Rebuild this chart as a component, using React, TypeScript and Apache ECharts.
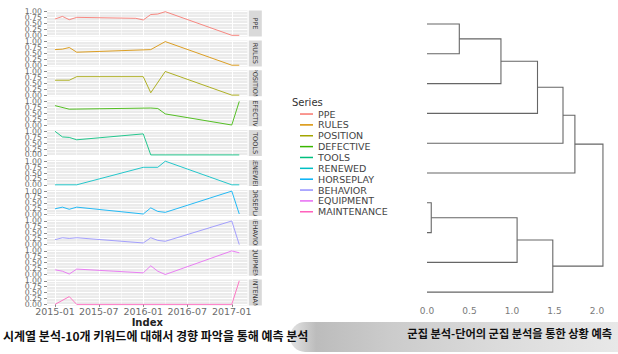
import React, { useEffect, useRef } from 'react';
import * as echarts from 'echarts';

// ---------- data ----------
const SERIES_NAMES = ['PPE', 'RULES', 'POSITION', 'DEFECTIVE', 'TOOLS', 'RENEWED', 'HORSEPLAY', 'BEHAVIOR', 'EQUIPMENT', 'MAINTENANCE'];
const SERIES_COLORS = ['#F8766D', '#D89000', '#A3A500', '#39B600', '#00BF7D', '#00BFC4', '#00B0F6', '#9590FF', '#E76BF3', '#FF62BC'];

const PPE: [string, number][] = [['2015-01', 0.69], ['2015-02', 0.8], ['2015-03', 0.66], ['2015-04', 0.76], ['2015-12', 0.72], ['2016-01', 0.65], ['2016-02', 0.88], ['2016-03', 0.9], ['2016-04', 1.0], ['2017-01', 0.0], ['2017-02', 0.0]];
const RULES: [string, number][] = [['2015-01', 0.66], ['2015-02', 0.68], ['2015-03', 0.75], ['2015-04', 0.55], ['2016-02', 0.66], ['2016-04', 1.0], ['2017-01', 0.0], ['2017-02', 0.0]];
const POSITION: [string, number][] = [['2015-01', 0.63], ['2015-03', 0.63], ['2015-04', 0.78], ['2016-01', 0.78], ['2016-02', 0.1], ['2016-04', 1.0], ['2017-01', 0.0], ['2017-02', 0.0]];
const DEFECTIVE: [string, number][] = [['2015-01', 0.82], ['2015-03', 0.67], ['2016-02', 0.72], ['2016-03', 0.7], ['2016-04', 0.47], ['2017-01', 0.0], ['2017-02', 1.0]];
const TOOLS: [string, number][] = [['2015-01', 1.0], ['2015-02', 0.76], ['2015-03', 0.74], ['2015-04', 0.64], ['2016-01', 0.89], ['2016-02', 0.0], ['2017-02', 0.0]];
const RENEWED: [string, number][] = [['2015-01', 0.0], ['2015-04', 0.0], ['2016-01', 0.74], ['2016-03', 0.74], ['2016-04', 1.0], ['2017-01', 0.0], ['2017-02', 0.0]];
const HORSEPLAY: [string, number][] = [['2015-01', 0.25], ['2015-02', 0.32], ['2015-03', 0.23], ['2015-04', 0.32], ['2016-01', 0.03], ['2016-02', 0.29], ['2016-03', 0.14], ['2016-04', 0.1], ['2017-01', 1.0], ['2017-02', 0.03]];
const BEHAVIOR: [string, number][] = [['2015-01', 0.21], ['2015-02', 0.29], ['2015-03', 0.26], ['2015-04', 0.29], ['2016-01', 0.07], ['2016-02', 0.29], ['2016-03', 0.18], ['2016-04', 0.14], ['2017-01', 1.0], ['2017-02', 0.0]];
const EQUIPMENT: [string, number][] = [['2015-01', 0.2], ['2015-02', 0.14], ['2015-03', 0.02], ['2015-04', 0.23], ['2016-01', 0.07], ['2016-02', 0.37], ['2016-03', 0.14], ['2016-04', 0.0], ['2017-01', 1.0], ['2017-02', 0.92]];
const MAINTENANCE: [string, number][] = [['2015-01', 0.0], ['2015-03', 0.33], ['2015-04', 0.0], ['2017-01', 0.0], ['2017-02', 1.0]];
const SERIES_DATA = [PPE, RULES, POSITION, DEFECTIVE, TOOLS, RENEWED, HORSEPLAY, BEHAVIOR, EQUIPMENT, MAINTENANCE];

const Y_TICKS = [0, 0.25, 0.5, 0.75, 1];
const Y_LABELS_A = [0, 0.5, 1];
const Y_LABELS_B = [0.25, 0.75];
const Y_MINOR = [0.125, 0.375, 0.625, 0.875];
const X_TICKS = ['2015-01', '2015-07', '2016-01', '2016-07', '2017-01'];
const X_MINOR = ['2015-04', '2015-10', '2016-04', '2016-10'];

// dendrogram merges (hclust style: negative = leaf, positive = earlier merge), height
const DENDRO_MERGES: [number, number, number][] = [
  [-1, -2, 0.38],
  [-7, -8, 0.05],
  [1, -3, 0.87],
  [2, -9, 1.06],
  [3, -4, 1.3],
  [4, -10, 1.48],
  [5, -5, 1.6],
  [7, -6, 1.74],
  [8, 6, 2.07],
];
const DENDRO_TICKS = [0, 0.5, 1, 1.5, 2];

const CAPTION_LEFT = '시계열 분석-10개 키워드에 대해서 경향 파악을 통해 예측 분석';
const CAPTION_RIGHT = '군집 분석-단어의 군집 분석을 통한 상황 예측';

// ---------- helpers ----------
const DAY = 86400000;
const ts = (m: string) => Date.UTC(Number(m.slice(0, 4)), Number(m.slice(5, 7)) - 1, 1);
const fmtMonth = (v: number) => {
  const d = new Date(v);
  return `${d.getUTCFullYear()}-${String(d.getUTCMonth() + 1).padStart(2, '0')}`;
};

const FONT = '"DejaVu Sans", sans-serif';
const X_MIN = ts('2015-01') - 33 * DAY;
const X_MAX = ts('2015-01') + 796 * DAY;

const PANEL_LEFT = 47;
const PANEL_W = 200.5;
const PANEL_TOP0 = 10.5;
const PERIOD = 29.9;
const PANEL_H = 26;
const STRIP_LEFT = 248.8;
const STRIP_W = 13;

function buildDendro() {
  const nodeY: number[] = [];
  const nodeH: number[] = [];
  const pos = (ref: number) => (ref < 0 ? { h: 0, y: -ref } : { h: nodeH[ref - 1], y: nodeY[ref - 1] });
  return DENDRO_MERGES.map(([a, b, h]) => {
    const pa = pos(a);
    const pb = pos(b);
    nodeH.push(h);
    nodeY.push((pa.y + pb.y) / 2);
    return { coords: [[pa.h, pa.y], [h, pa.y], [h, pb.y], [pb.h, pb.y]] };
  });
}

const yLabelStyle = {
  formatter: (v: number) => v.toFixed(2), showMinLabel: true, showMaxLabel: true, hideOverlap: false,
  fontSize: 7.8, color: '#6b6b6b', margin: 5, fontFamily: FONT,
};

function buildOption(): any {
  const n = SERIES_NAMES.length;
  const grid: any[] = [];
  const xAxis: any[] = [];
  const yAxis: any[] = [];
  const series: any[] = [];

  for (let k = 0; k < n; k++) {
    grid.push({
      left: PANEL_LEFT, top: PANEL_TOP0 + PERIOD * k, width: PANEL_W, height: PANEL_H,
      show: true, backgroundColor: '#EBEBEB', borderWidth: 0, containLabel: false, outerBoundsMode: 'none',
    });
  }
  for (let k = 0; k < n; k++) {
    grid.push({
      left: STRIP_LEFT, top: PANEL_TOP0 + PERIOD * k, width: STRIP_W, height: PANEL_H,
      show: true, backgroundColor: '#D9D9D9', borderWidth: 0, containLabel: false, outerBoundsMode: 'none',
    });
  }
  grid.push({ left: 427, top: 9.1, width: 178.5, height: 293.8, show: false, containLabel: false, outerBoundsMode: 'none' });

  const last = n - 1;
  for (let k = 0; k < n; k++) {
    xAxis.push({
      type: 'value', gridIndex: k, min: X_MIN, max: X_MAX, position: 'bottom',
      axisLine: { show: false },
      axisTick: { show: k === last, length: 2.5, customValues: X_TICKS.map(ts), lineStyle: { color: '#8a8a8a' } },
      axisLabel: {
        show: k === last, customValues: X_TICKS.map(ts), formatter: (v: number) => fmtMonth(v),
        showMinLabel: true, showMaxLabel: true, hideOverlap: false,
        fontSize: 9.5, color: '#6b6b6b', margin: 1, fontFamily: FONT,
      },
      splitLine: { show: true, lineStyle: { color: '#FFFFFF', width: 1 } },
      name: k === last ? 'Index' : '', nameLocation: 'middle', nameGap: 7,
      nameTextStyle: { fontSize: 10, color: '#222', fontWeight: 'bold', fontFamily: FONT },
    });
  }
  for (let k = 0; k < n; k++) {
    xAxis.push({
      type: 'value', gridIndex: k, min: X_MIN, max: X_MAX, position: 'top',
      axisLine: { show: false }, axisLabel: { show: false },
      axisTick: { show: false, customValues: X_MINOR.map(ts) },
      splitLine: { show: true, lineStyle: { color: '#FFFFFF', width: 0.5 } },
    });
  }
  for (let k = 0; k < n; k++) {
    xAxis.push({ type: 'value', gridIndex: n + k, min: 0, max: 1, show: false });
  }
  xAxis.push({
    type: 'value', gridIndex: 2 * n, min: 0, max: 2.1,
    axisLine: { show: false }, axisTick: { show: false }, splitLine: { show: false },
    axisLabel: {
      customValues: DENDRO_TICKS, formatter: (v: number) => v.toFixed(1), showMinLabel: true, showMaxLabel: true,
      fontSize: 9, color: '#7a7a7a', margin: 4, fontFamily: FONT,
    },
  });

  // 0..9 major y axes (ticks, grid lines, labels 0 / 0.5 / 1)
  for (let k = 0; k < n; k++) {
    yAxis.push({
      type: 'value', gridIndex: k, min: -0.05, max: 1.05, position: 'left',
      axisLine: { show: false },
      axisTick: { show: true, length: 3, customValues: Y_TICKS, lineStyle: { color: '#8a8a8a' } },
      axisLabel: { ...yLabelStyle, customValues: Y_LABELS_A },
      splitLine: { show: true, lineStyle: { color: '#FFFFFF', width: 1 } },
    });
  }
  // 10..19 minor grid lines
  for (let k = 0; k < n; k++) {
    yAxis.push({
      type: 'value', gridIndex: k, min: -0.05, max: 1.05, position: 'right',
      axisLine: { show: false }, axisLabel: { show: false },
      axisTick: { show: false, customValues: Y_MINOR },
      splitLine: { show: true, lineStyle: { color: '#FFFFFF', width: 0.5 } },
    });
  }
  // 20..29 strips
  for (let k = 0; k < n; k++) {
    yAxis.push({ type: 'value', gridIndex: n + k, min: 0, max: 1, show: false });
  }
  // 30 dendrogram
  yAxis.push({ type: 'value', gridIndex: 2 * n, min: 0.5, max: 10.36, inverse: true, show: false });
  // 31..40 labels 0.25 / 0.75
  for (let k = 0; k < n; k++) {
    yAxis.push({
      type: 'value', gridIndex: k, min: -0.05, max: 1.05, position: 'left', offset: 0,
      axisLine: { show: false },
      axisTick: { show: false, customValues: Y_LABELS_B },
      axisLabel: { ...yLabelStyle, customValues: Y_LABELS_B },
      splitLine: { show: false },
    });
  }

  for (let k = 0; k < n; k++) {
    series.push({
      type: 'line', name: SERIES_NAMES[k], xAxisIndex: k, yAxisIndex: k,
      data: SERIES_DATA[k].map(([m, v]) => [ts(m), v]),
      symbol: 'none', showSymbol: false, color: SERIES_COLORS[k],
      lineStyle: { width: 1, color: SERIES_COLORS[k], opacity: 0.85 }, itemStyle: { color: SERIES_COLORS[k] },
      silent: true, z: 3,
    });
  }
  for (let k = 0; k < n; k++) {
    const label = SERIES_NAMES[k];
    series.push({
      type: 'custom', name: 'strip-' + label, xAxisIndex: 2 * n + k, yAxisIndex: 2 * n + k,
      clip: true, silent: true, data: [[0.5, 0.5]],
      renderItem: (params: any) => {
        const cs = params.coordSys;
        return {
          type: 'text', x: cs.x + cs.width / 2, y: cs.y + cs.height / 2, rotation: -Math.PI / 2,
          style: { text: label, fill: '#333333', fontSize: 6.5, fontFamily: FONT, align: 'center', verticalAlign: 'middle' },
        };
      },
    });
  }
  series.push({
    type: 'lines', coordinateSystem: 'cartesian2d', xAxisIndex: 3 * n, yAxisIndex: 3 * n,
    polyline: true, silent: true, data: buildDendro(),
    lineStyle: { color: '#666666', width: 1.1, opacity: 1 },
  });

  return {
    animation: false,
    backgroundColor: '#FFFFFF',
    textStyle: { fontFamily: FONT },
    grid, xAxis, yAxis, series,
    legend: {
      data: SERIES_NAMES, orient: 'vertical', left: 300, top: 108.6, padding: 0, itemGap: 0,
      itemWidth: 13, itemHeight: 1.5, icon: 'rect', selectedMode: false,
      textStyle: { fontSize: 9.5, color: '#444444', fontFamily: FONT, lineHeight: 10.86 },
    },
    graphic: [
      {
        type: 'text', left: 292, top: 97, z: 10,
        style: { text: 'Series', fontSize: 10, fill: '#333333', fontFamily: FONT },
      },
      {
        type: 'rect', z: 1, silent: true,
        shape: { x: 290, y: 322, width: 328, height: 30, r: [15, 0, 0, 15] },
        style: {
          fill: new echarts.graphic.LinearGradient(0, 0, 1, 0, [
            { offset: 0, color: '#e4e4e4' },
            { offset: 0.08, color: '#bcbcbc' },
            { offset: 0.3, color: '#cbcbcb' },
            { offset: 0.65, color: '#dcdcdc' },
            { offset: 1, color: '#e8e8e8' },
          ]),
        },
      },
      {
        type: 'text', x: 3, y: 335, z: 10,
        style: { text: CAPTION_LEFT, fontSize: 12, fontWeight: 'bold', fontFamily: '"Noto Sans CJK KR", sans-serif', fill: '#111111', verticalAlign: 'middle' },
      },
      {
        type: 'text', x: 612, y: 333, z: 10,
        style: { text: CAPTION_RIGHT, fontSize: 11.2, fontWeight: 'bold', fontFamily: '"Noto Sans CJK KR", sans-serif', fill: '#111111', align: 'right', verticalAlign: 'middle' },
      },
    ],
  };
}

export default function App() {
  const ref = useRef<HTMLDivElement>(null);
  useEffect(() => {
    if (!ref.current) return;
    const chart = echarts.init(ref.current, undefined, { renderer: 'svg' });
    chart.setOption(buildOption());
    return () => chart.dispose();
  }, []);
  return <div ref={ref} style={{ position: 'fixed', left: 0, top: 0, width: 618, height: 354 }} />;
}
